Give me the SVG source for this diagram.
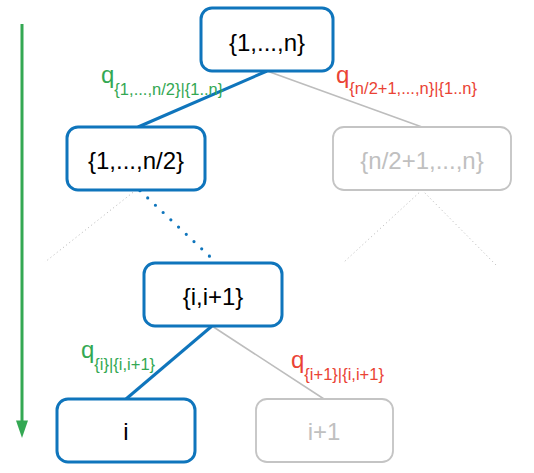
<svg xmlns="http://www.w3.org/2000/svg" width="534" height="473" viewBox="0 0 534 473">
<defs>
<style>
.node{fill:#fff;stroke:#0f75bc;stroke-width:3}
.gnode{fill:#fff;stroke:#c4c4c4;stroke-width:1.8}
.t{font-family:"Liberation Sans",Arial,sans-serif;font-size:24px;text-anchor:middle;fill:#000}
.gt{fill:#c0c0c0}
.lab{font-family:"Liberation Sans",Arial,sans-serif}
.q{font-size:24px}
.sub{font-size:16.5px}
.green{fill:#34a853}
.red{fill:#ea4335}
.blue{stroke:#0f75bc;stroke-width:3;fill:none}
.gray{stroke:#bdbdbd;stroke-width:1.6;fill:none}
.gdot{stroke:#b5b5b5;stroke-width:1;stroke-dasharray:1 3;fill:none}
.bdot{stroke:#0f75bc;stroke-width:3.2;stroke-dasharray:0 10.6;stroke-linecap:round;fill:none}
</style>
</defs>
<g id="connectors">
<line class="blue" x1="267" y1="71" x2="138" y2="127"/>
<line class="gray" x1="267" y1="71" x2="422" y2="127"/>
<line class="gdot" x1="136" y1="190" x2="45" y2="262"/>
<line class="bdot" x1="140" y1="190.7" x2="210" y2="256.7"/>
<line class="gdot" x1="422" y1="190" x2="344" y2="262"/>
<line class="gdot" x1="422" y1="190" x2="497" y2="266"/>
<line class="blue" x1="212" y1="326" x2="126" y2="399"/>
<line class="gray" x1="212" y1="326" x2="324" y2="399"/>
<line x1="22" y1="24" x2="22" y2="421" stroke="#34a853" stroke-width="3"/>
<path d="M16,420.5 L28,420.5 L22,438 Z" fill="#34a853"/>
</g>
<g id="node-root">
<rect class="node" x="201" y="8" width="132" height="63" rx="11"/>
<text class="t" x="267" y="51">{1,...,n}</text>
</g>
<g id="node-left">
<rect class="node" x="67" y="127" width="138" height="63" rx="11"/>
<text class="t" x="136" y="169">{1,...,n/2}</text>
</g>
<g id="node-right">
<rect class="gnode" x="333" y="127" width="178" height="63" rx="11"/>
<text class="t gt" x="422" y="169">{n/2+1,...,n}</text>
</g>
<g id="node-pair">
<rect class="node" x="144" y="263" width="138" height="63" rx="11"/>
<text class="t" x="213" y="305">{i,i+1}</text>
</g>
<g id="node-i">
<rect class="node" x="57" y="399" width="138" height="63" rx="11"/>
<text class="t" x="126" y="440">i</text>
</g>
<g id="node-i1">
<rect class="gnode" x="256" y="399" width="137" height="63" rx="11"/>
<text class="t gt" x="324" y="440">i+1</text>
</g>
<g id="labels">
<text class="lab green" x="101" y="83"><tspan class="q">q</tspan><tspan class="sub" dy="12">{1,...,n/2}|{1..n}</tspan></text>
<text class="lab red" x="336" y="83"><tspan class="q">q</tspan><tspan class="sub" dy="11">{n/2+1,...,n}|{1..n}</tspan></text>
<text class="lab green" x="81" y="358"><tspan class="q">q</tspan><tspan class="sub" dy="12">{i}|{i,i+1}</tspan></text>
<text class="lab red" x="291" y="368"><tspan class="q">q</tspan><tspan class="sub" dy="12">{i+1}|{i,i+1}</tspan></text>
</g>
</svg>
